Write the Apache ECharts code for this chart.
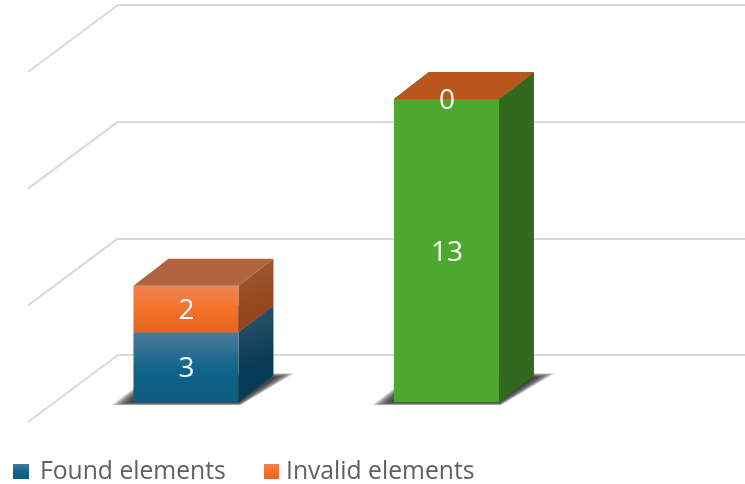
<!DOCTYPE html>
<html>
<head>
<meta charset="utf-8">
<style>html,body{margin:0;padding:0;background:#fff}#c{width:745px;height:484px}</style>
<script src="https://cdn.jsdelivr.net/npm/echarts@6/dist/echarts.min.js"></script>
</head>
<body>
<div id="c"></div>
<script>
const categories = ['Page A', 'Page B'];
const foundElements = [3, 13];
const invalidElements = [2, 0];
const wallTicks = [0, 5, 10, 15];

const DEPTH_X = 35, DEPTH_Y = -27, BAR_RATIO = 105 / 260.5, SHADOW_LAYERS = 14;
const vGrad = (stops) => ({type:'linear',x:0,y:0,x2:0,y2:1,colorStops:stops.map(s=>({offset:s[0],color:s[1]}))});
const dGrad = (stops) => ({type:'linear',x:0,y:0,x2:1,y2:1,colorStops:stops.map(s=>({offset:s[0],color:s[1]}))});

const blue = {
  front: vGrad([[0,'#4a7b98'],[0.55,'#0f6389'],[1,'#0f5c80']]),
  side: dGrad([[0,'#33566c'],[0.6,'#083b56'],[1,'#073a55']]),
  top: '#2f6585'
};
const green = {front:'#4ea72e', side:'#33691e', top:'#3a7d22'};
const orange = {
  front: vGrad([[0,'#f08354'],[0.5,'#f5722a'],[1,'#e5651f']]),
  side: dGrad([[0,'#a05a35'],[0.6,'#96481f'],[1,'#8c4420']]),
  top: '#b2633f'
};
const orangeFlat = {front:'#e97132', side:'#a04d1f', top:'#b8561d'};

function box(api, base, value, skin, withShadow) {
  const i = api.value(0);
  const cx = api.coord([i, 0])[0];
  const w = api.size([1, 0])[0] * BAR_RATIO;
  const l = cx - w / 2, r = cx + w / 2;
  const y0 = api.coord([i, base])[1];
  const y1 = api.coord([i, base + value])[1];
  const kids = [];
  if (withShadow) {
    for (let k = 0; k < SHADOW_LAYERS; k++) {
      const t = 1 - k / (SHADOW_LAYERS - 1);
      kids.push({type:'polygon',
        shape:{points:[
          [l - 2 - 20 * t, y0 + 3 * t],
          [r + 2 * t, y0 + 3 * t],
          [r + 36 + 20 * t, y0 - 25 - 4 * t],
          [l + 20, y0 - 25 - 4 * t]
        ]},
        style:{fill:'rgba(35,35,35,0.13)'}});
    }
  }
  if (value > 0) {
    kids.push({type:'polygon',
      shape:{points:[[r,y0],[r+DEPTH_X,y0+DEPTH_Y],[r+DEPTH_X,y1+DEPTH_Y],[r,y1]]},
      style:{fill:skin.side}});
    kids.push({type:'rect',shape:{x:l,y:y1,width:w,height:y0-y1},style:{fill:skin.front}});
  }
  kids.push({type:'polygon',
    shape:{points:[[l,y1],[r,y1],[r+DEPTH_X,y1+DEPTH_Y],[l+DEPTH_X,y1+DEPTH_Y]]},
    style:{fill:skin.top}});
  kids.push({type:'text',
    style:{text:String(value),x:cx+0.5,y:(y0+y1)/2+2,align:'center',verticalAlign:'middle',
      fill:'#fff',font:'28px "Open Sans", sans-serif'}});
  return {type:'group',children:kids};
}

const chart = echarts.init(document.getElementById('c'), null, {renderer:'canvas'});
chart.setOption({
  animation:false,
  backgroundColor:'#fff',
  grid:[
    {left:118,width:627,top:5,height:350},
    {left:55.7,width:521,top:52.3,height:350}
  ],
  xAxis:[
    {gridIndex:0,type:'value',min:0,max:1,show:false},
    {gridIndex:1,type:'category',data:categories,show:false}
  ],
  yAxis:[
    {gridIndex:0,type:'value',min:0,max:15,interval:5,
      axisLine:{show:false},axisTick:{show:false},axisLabel:{show:false},
      splitLine:{show:true,lineStyle:{color:'#d9d9d9',width:2}}},
    {gridIndex:1,type:'value',min:0,max:15,interval:5,show:false,splitLine:{show:false}}
  ],
  legend:[
    {left:8,top:454,itemWidth:16,itemHeight:15,data:['Found elements'],icon:'rect',
      textStyle:{color:'#5f5f5f',fontSize:24.7,fontFamily:'"Open Sans", sans-serif',padding:[0,0,0,6]}},
    {left:259,top:454,itemWidth:15,itemHeight:15,data:['Invalid elements'],icon:'rect',
      textStyle:{color:'#5f5f5f',fontSize:24.7,fontFamily:'"Open Sans", sans-serif',padding:[0,0,0,2]}}
  ],
  series:[
    {type:'custom',name:'walls',xAxisIndex:0,yAxisIndex:0,clip:false,silent:true,z:1,
      data:wallTicks.map(v=>[0,v]),
      renderItem:(p,api)=>{
        const a = api.coord([0,api.value(1)]);
        return {type:'line',shape:{x1:a[0],y1:a[1],x2:a[0]-90,y2:a[1]+67},
          style:{stroke:'#d9d9d9',lineWidth:2}};
      }},
    {type:'custom',name:'Found elements',xAxisIndex:1,yAxisIndex:1,clip:false,z:2,
      itemStyle:{color:vGrad([[0,'#4a7b98'],[0.5,'#0f6389'],[1,'#0f5c80']])},
      data:categories.map((c,i)=>[i,foundElements[i]]),
      renderItem:(p,api)=>box(api,0,api.value(1),api.value(0)===1?green:blue,true)},
    {type:'custom',name:'Invalid elements',xAxisIndex:1,yAxisIndex:1,clip:false,z:3,
      itemStyle:{color:vGrad([[0,'#f08354'],[0.5,'#f5722a'],[1,'#e5651f']])},
      data:categories.map((c,i)=>[i,invalidElements[i]]),
      renderItem:(p,api)=>{
        const i=api.value(0);
        return box(api,foundElements[i],api.value(1),invalidElements[i]===0?orangeFlat:orange,false);
      }}
  ]
});
</script>
</body>
</html>
